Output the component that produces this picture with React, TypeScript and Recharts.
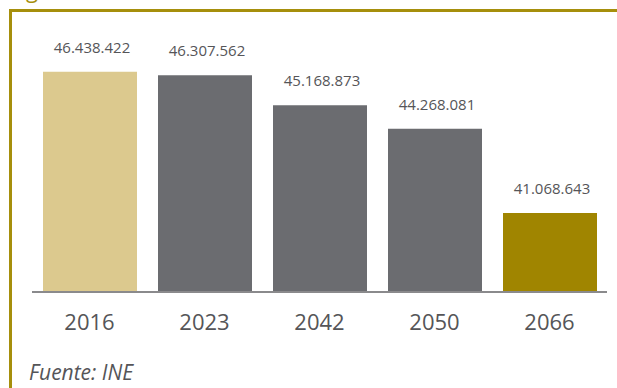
import React from 'react';
import { BarChart, Bar, XAxis, YAxis, Cell, LabelList } from 'recharts';

const categories = ['2016', '2023', '2042', '2050', '2066'];
const population = [46438422, 46307562, 45168873, 44268081, 41068643];
const barColors = ['#dcc98e', '#6b6c70', '#6b6c70', '#6b6c70', '#a08500'];
const sourceText = 'Fuente: INE';
const titleFragment = 'g';

const data = categories.map((year, i) => ({ year, value: population[i] }));

const fmt = (v: number) => String(v).replace(/\B(?=(\d{3})+(?!\d))/g, '.');

const FONT = '"Open Sans", "Noto Sans", sans-serif';
const GOLD = '#a68f0c';
const TEXT = '#555558';

const ValueLabel = (props: any) => {
  const { x, y, width, value } = props;
  return (
    <text x={x + width / 2 + 2} y={y - 19} textAnchor="middle" fontSize={15} fill={TEXT} fontFamily={FONT}>
      {fmt(value)}
    </text>
  );
};

const YearTick = (props: any) => {
  const { x, y, payload } = props;
  return (
    <text x={x} y={y + 38} textAnchor="middle" fontSize={22} fill={TEXT} fontFamily={FONT}>
      {payload.value}
    </text>
  );
};

export default function App() {
  return (
    <div style={{ position: 'absolute', left: 0, top: 0, width: 617, height: 388, background: '#fff', overflow: 'hidden' }}>
      <svg width={80} height={20} style={{ position: 'absolute', left: 0, top: 0 }}>
        <text x={26} y={-2} fontSize={22} fill={GOLD} fontFamily={FONT}>{titleFragment}</text>
      </svg>
      <div
        style={{
          position: 'absolute',
          left: 9,
          top: 9,
          width: 700,
          height: 500,
          borderTop: `3px solid ${GOLD}`,
          borderLeft: `3px solid ${GOLD}`,
          boxSizing: 'border-box',
        }}
      />
      <div style={{ position: 'absolute', left: 0, top: 0 }}>
        <BarChart width={617} height={388} data={data} margin={{ top: 57, right: 10, left: 32, bottom: 60 }}>
          <YAxis hide domain={[38060000, 47000000]} allowDataOverflow />
          <XAxis
            dataKey="year"
            height={36}
            tickLine={false}
            tickSize={0}
            tickMargin={0}
            axisLine={{ stroke: '#8a8a8c', strokeWidth: 2 }}
            tick={<YearTick />}
            interval={0}
          />
          <Bar dataKey="value" barSize={94} isAnimationActive={false}>
            {data.map((d, i) => (
              <Cell key={d.year} fill={barColors[i]} />
            ))}
            <LabelList dataKey="value" content={<ValueLabel />} />
          </Bar>
        </BarChart>
      </div>
      <div
        style={{
          position: 'absolute',
          left: 29,
          top: 358,
          fontFamily: FONT,
          fontStyle: 'italic',
          fontSize: 21,
          color: TEXT,
          lineHeight: '28px',
          whiteSpace: 'nowrap',
        }}
      >
        {sourceText}
      </div>
    </div>
  );
}
